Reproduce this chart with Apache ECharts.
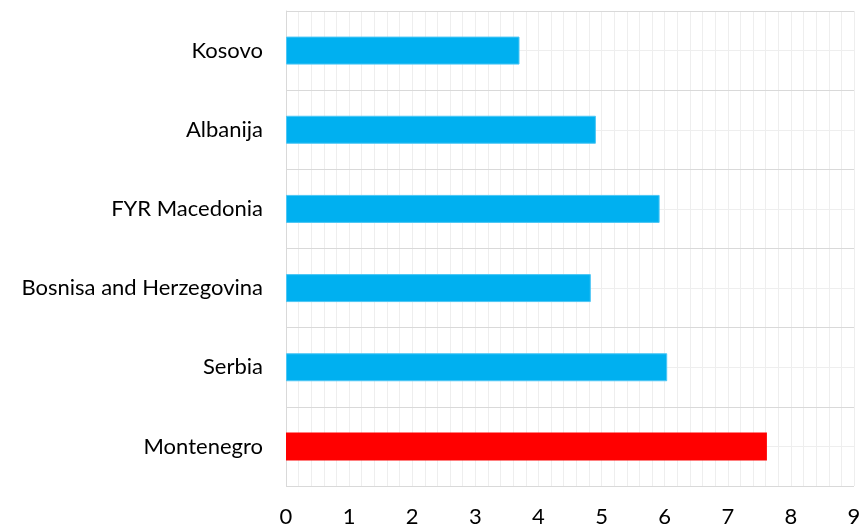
<!DOCTYPE html>
<html><head><meta charset="utf-8">
<script src="https://cdn.jsdelivr.net/npm/echarts@6/dist/echarts.min.js"></script>
<style>html,body{margin:0;padding:0;background:#fff}#c{width:866px;height:530px}</style>
</head><body><div id="c"></div>
<script>
const categories = ["Kosovo", "Albanija", "FYR Macedonia", "Bosnisa and Herzegovina", "Serbia", "Montenegro"];
const values = [3.70, 4.91, 5.92, 4.83, 6.04, 7.62];
const highlighted = "Montenegro";
const xTicks = [0, 1, 2, 3, 4, 5, 6, 7, 8, 9];

const chart = echarts.init(document.getElementById('c'));
const font = 'Lato';
chart.setOption({
  animation: false,
  grid: { left: 286, right: 12, top: 11, bottom: 44, containLabel: false },
  xAxis: {
    type: 'value', min: xTicks[0], max: xTicks[xTicks.length - 1], interval: 1,
    axisLine: { show: false }, axisTick: { show: false },
    axisLabel: { color: '#000', fontFamily: font, fontSize: 22, margin: 20 },
    splitLine: { show: true, lineStyle: { color: '#eeeeee', width: 1 } },
    minorTick: { show: false, splitNumber: 5 },
    minorSplitLine: { show: true, lineStyle: { color: '#eeeeee', width: 1 } }
  },
  yAxis: [{
    type: 'category', data: categories, inverse: true, z: 3,
    axisLine: { show: true, lineStyle: { color: '#d9d9d9', width: 1 } },
    axisTick: { show: false },
    axisLabel: { color: '#000', fontFamily: font, fontSize: 22, margin: 23 },
    splitLine: { show: true, lineStyle: { color: '#d9d9d9', width: 1 } }
  }, {
    type: 'value', min: 0, max: 12, interval: 1, position: 'right', z: 1,
    axisLine: { show: false }, axisTick: { show: false }, axisLabel: { show: false },
    splitLine: { show: true, lineStyle: { color: '#eeeeee', width: 1 } }
  }],
  series: [{
    type: 'bar', yAxisIndex: 0, barWidth: 28, z: 5,
    data: categories.map((c, i) => ({
      value: values[i],
      itemStyle: c === highlighted
        ? { color: '#ff0000' }
        : { color: '#00b0f0', borderColor: '#4cc6f5', borderWidth: 1 }
    }))
  }]
});
</script></body></html>
